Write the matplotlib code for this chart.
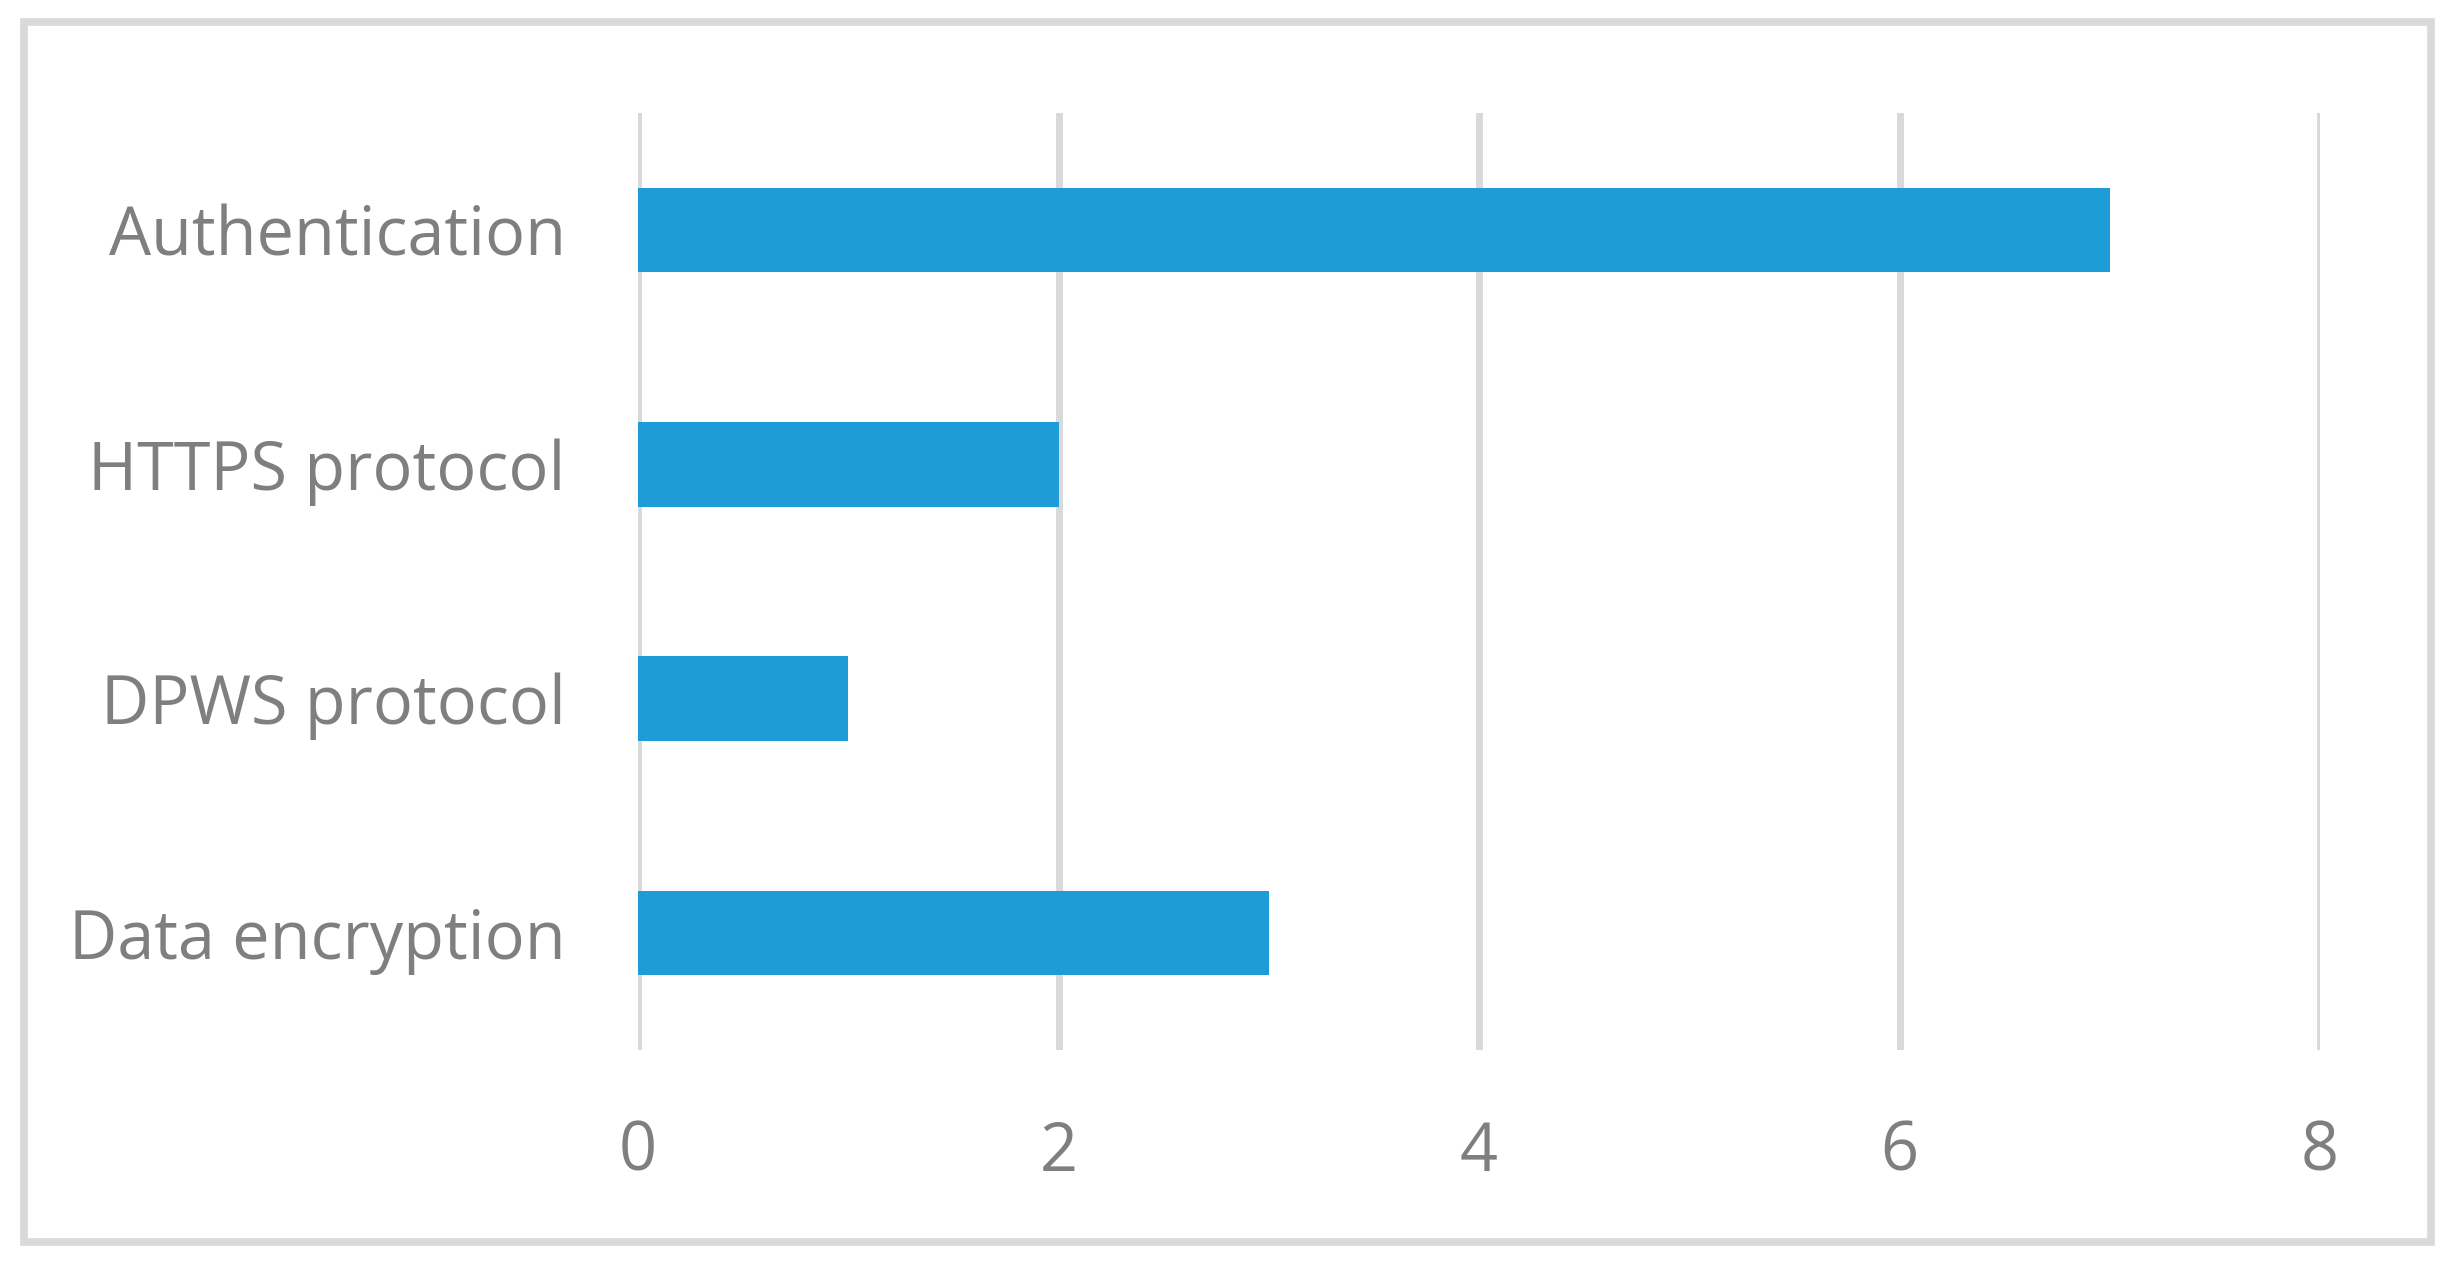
import matplotlib.pyplot as plt
from matplotlib.patches import Rectangle

# data
categories = ['Authentication', 'HTTPS protocol', 'DPWS protocol', 'Data encryption']
counts = [7, 2, 1, 3]
x_ticks = [0, 2, 4, 6, 8]

text_color = '#7F7F7F'
grid_color = '#D9D9D9'
bar_color = '#1E9CD8'

plt.rcParams['font.family'] = ['Open Sans', 'DejaVu Sans']

# figure
fig = plt.figure(figsize=(24.55, 12.69), dpi=100)
ax = fig.add_axes([638 / 2455, 1 - 1050 / 1269, (2320 - 638) / 2455, (1050 - 113) / 1269])

pos = list(range(len(categories)))[::-1]
ax.barh(pos, counts, height=0.36, color=bar_color, zorder=3)

ax.set_xlim(0, 8)
ax.set_ylim(-0.5, len(categories) - 0.5)
ax.set_xticks(x_ticks)
ax.set_xticklabels([str(t) for t in x_ticks])
ax.set_yticks(pos)
ax.set_yticklabels(categories)

# vertical grid only
ax.grid(True, axis='x', color=grid_color, linewidth=5, zorder=0)
ax.grid(False, axis='y')
for s in ax.spines.values():
    s.set_visible(False)

ax.tick_params(axis='both', length=0, labelsize=48, colors=text_color)
ax.tick_params(axis='y', pad=52)
ax.tick_params(axis='x', pad=50)

# chart border
fig.patches.append(Rectangle((24 / 2455, 1 - 1242 / 1269), (2431 - 24) / 2455, (1242 - 22) / 1269,
                             transform=fig.transFigure, fill=False, edgecolor=grid_color, linewidth=5.5))

plt.savefig('out.png', dpi=100)
